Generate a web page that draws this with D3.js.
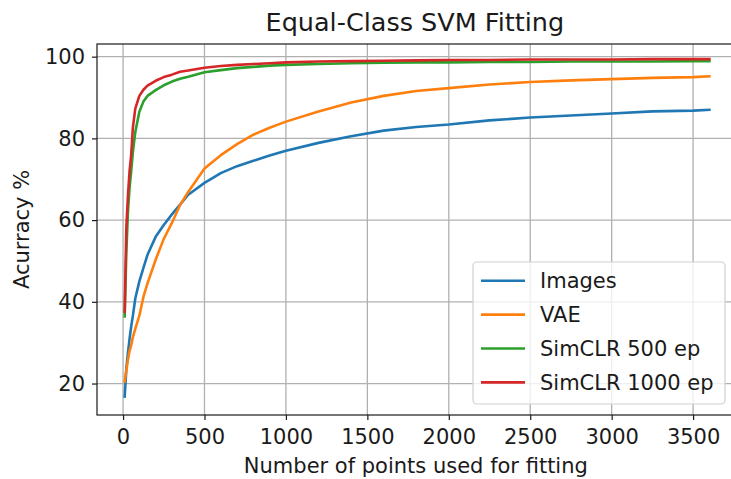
<!DOCTYPE html>
<html lang="en">
<head>
  <meta charset="UTF-8">
  <title>Equal-Class SVM Fitting</title>
  <script src="https://d3js.org/d3.v7.min.js"></script>
  <style>
    body { margin: 0; background: #fff; }
    text { font-family: "DejaVu Sans", sans-serif; fill: #1a1a1a; }
    .grid line { stroke: #b0b0b0; stroke-width: 1.3; }
    .line { fill: none; stroke-width: 2.6; stroke-linejoin: round; stroke-linecap: square; }
    .tick line { stroke: #1a1a1a; stroke-width: 1.2; }
  </style>
</head>
<body>
<script>
  // data
  const xs = [10, 20, 30, 40, 50, 60, 75, 100, 125, 150, 200, 250, 300, 350, 400, 500, 600, 700, 800, 900,
              1000, 1200, 1400, 1600, 1800, 2000, 2250, 2500, 2750, 3000, 3250, 3500, 3600];
  const images = [16.8, 23.5, 27.5, 31.0, 34.0, 36.5, 40.8, 45.0, 48.3, 51.5, 55.9, 58.8, 61.4, 63.8, 66.2, 69.1, 71.5, 73.2, 74.5, 75.8,
                  77.0, 78.9, 80.5, 81.9, 82.8, 83.4, 84.4, 85.1, 85.6, 86.1, 86.6, 86.8, 87.0];
  const vae = [20.5, 23.2, 25.8, 28.0, 29.4, 31.3, 33.4, 36.6, 41.2, 44.5, 50.3, 55.4, 59.3, 63.7, 66.9, 72.6, 75.9, 78.6, 80.9, 82.6,
               84.1, 86.6, 88.8, 90.4, 91.6, 92.3, 93.2, 93.8, 94.2, 94.5, 94.8, 95.0, 95.2];
  const simclr500 = [36.4, 52.0, 62.0, 68.0, 72.0, 76.5, 81.5, 86.5, 89.0, 90.4, 91.8, 93.0, 93.9, 94.6, 95.1, 96.2, 96.7, 97.2, 97.5, 97.8,
                     98.0, 98.2, 98.4, 98.5, 98.6, 98.6, 98.7, 98.7, 98.8, 98.8, 98.8, 98.9, 98.9];
  const simclr1000 = [37.6, 58.0, 66.0, 72.0, 76.0, 82.5, 87.3, 90.4, 91.9, 92.9, 94.1, 95.0, 95.6, 96.3, 96.6, 97.3, 97.7, 98.0, 98.2, 98.4,
                      98.6, 98.8, 98.9, 99.0, 99.1, 99.2, 99.2, 99.3, 99.3, 99.3, 99.4, 99.4, 99.4];
  const seriesNames = ['Images', 'VAE', 'SimCLR 500 ep', 'SimCLR 1000 ep'];
  const seriesValues = [images, vae, simclr500, simclr1000];
  const colors = ['#1f77b4', '#ff7f0e', '#2ca02c', '#d62728'];
  const xTicks = [0, 500, 1000, 1500, 2000, 2500, 3000, 3500];
  const yTicks = [20, 40, 60, 80, 100];

  const W = 731, H = 479;
  const plot = {left: 97, right: 738.7, top: 44, bottom: 415};

  const x = d3.scaleLinear().domain([-160, 3780]).range([plot.left, plot.right]);
  const y = d3.scaleLinear().domain([12.3, 103.1]).range([plot.bottom, plot.top]);

  const svg = d3.select('body').append('svg')
    .attr('width', W).attr('height', H);
  svg.append('rect').attr('width', W).attr('height', H).attr('fill', '#fff');

  // grid
  const grid = svg.append('g').attr('class', 'grid');
  grid.selectAll('.gx').data(xTicks).enter().append('line')
    .attr('x1', d => x(d)).attr('x2', d => x(d))
    .attr('y1', plot.top).attr('y2', plot.bottom);
  grid.selectAll('.gy').data(yTicks).enter().append('line')
    .attr('x1', plot.left).attr('x2', plot.right)
    .attr('y1', d => y(d)).attr('y2', d => y(d));

  // lines
  const line = d3.line().x((d, i) => x(xs[i])).y(d => y(d));
  seriesValues.forEach((vals, k) => {
    svg.append('path').datum(vals)
      .attr('class', 'line')
      .attr('stroke', colors[k])
      .attr('d', line);
  });

  // frame
  svg.append('rect')
    .attr('x', plot.left).attr('y', plot.top)
    .attr('width', plot.right - plot.left).attr('height', plot.bottom - plot.top)
    .attr('fill', 'none').attr('stroke', '#1a1a1a').attr('stroke-width', 1.2);

  // axes
  const xAxis = svg.append('g')
    .attr('transform', `translate(0,${plot.bottom})`)
    .call(d3.axisBottom(x).tickValues(xTicks).tickFormat(d3.format('d'))
      .tickSizeInner(5).tickSizeOuter(0).tickPadding(9));
  const yAxis = svg.append('g')
    .attr('transform', `translate(${plot.left},0)`)
    .call(d3.axisLeft(y).tickValues(yTicks).tickFormat(d3.format('d'))
      .tickSizeInner(5).tickSizeOuter(0).tickPadding(7));
  [xAxis, yAxis].forEach(a => {
    a.select('.domain').remove();
    a.selectAll('text').attr('font-size', 21).attr('font-family', '"DejaVu Sans", sans-serif').attr('fill', '#1a1a1a');
  });

  // labels
  svg.append('text')
    .attr('x', (plot.left + plot.right) / 2 - 3).attr('y', 31)
    .attr('text-anchor', 'middle').attr('font-size', 25.5)
    .text('Equal-Class SVM Fitting');
  svg.append('text')
    .attr('x', (plot.left + plot.right) / 2 - 2).attr('y', 473)
    .attr('text-anchor', 'middle').attr('font-size', 21)
    .text('Number of points used for fitting');
  svg.append('text')
    .attr('transform', `translate(29,${(plot.top + plot.bottom) / 2}) rotate(-90)`)
    .attr('text-anchor', 'middle').attr('font-size', 21)
    .text('Acurracy %');

  // legend
  const lg = svg.append('g');
  lg.append('rect')
    .attr('x', 473).attr('y', 262).attr('width', 252).attr('height', 142)
    .attr('rx', 4)
    .attr('fill', '#fff').attr('fill-opacity', 0.8)
    .attr('stroke', '#d0d0d0').attr('stroke-width', 1.2);
  const rows = lg.selectAll('.row').data(seriesNames).enter().append('g')
    .attr('transform', (d, i) => `translate(0,${280.7 + i * 33.9})`);
  rows.append('line')
    .attr('x1', 481).attr('x2', 525).attr('y1', 0).attr('y2', 0)
    .attr('stroke', (d, i) => colors[i]).attr('stroke-width', 2.6);
  rows.append('text')
    .attr('x', 540).attr('y', 7.5)
    .attr('font-size', 21)
    .text(d => d);
</script>
</body>
</html>
